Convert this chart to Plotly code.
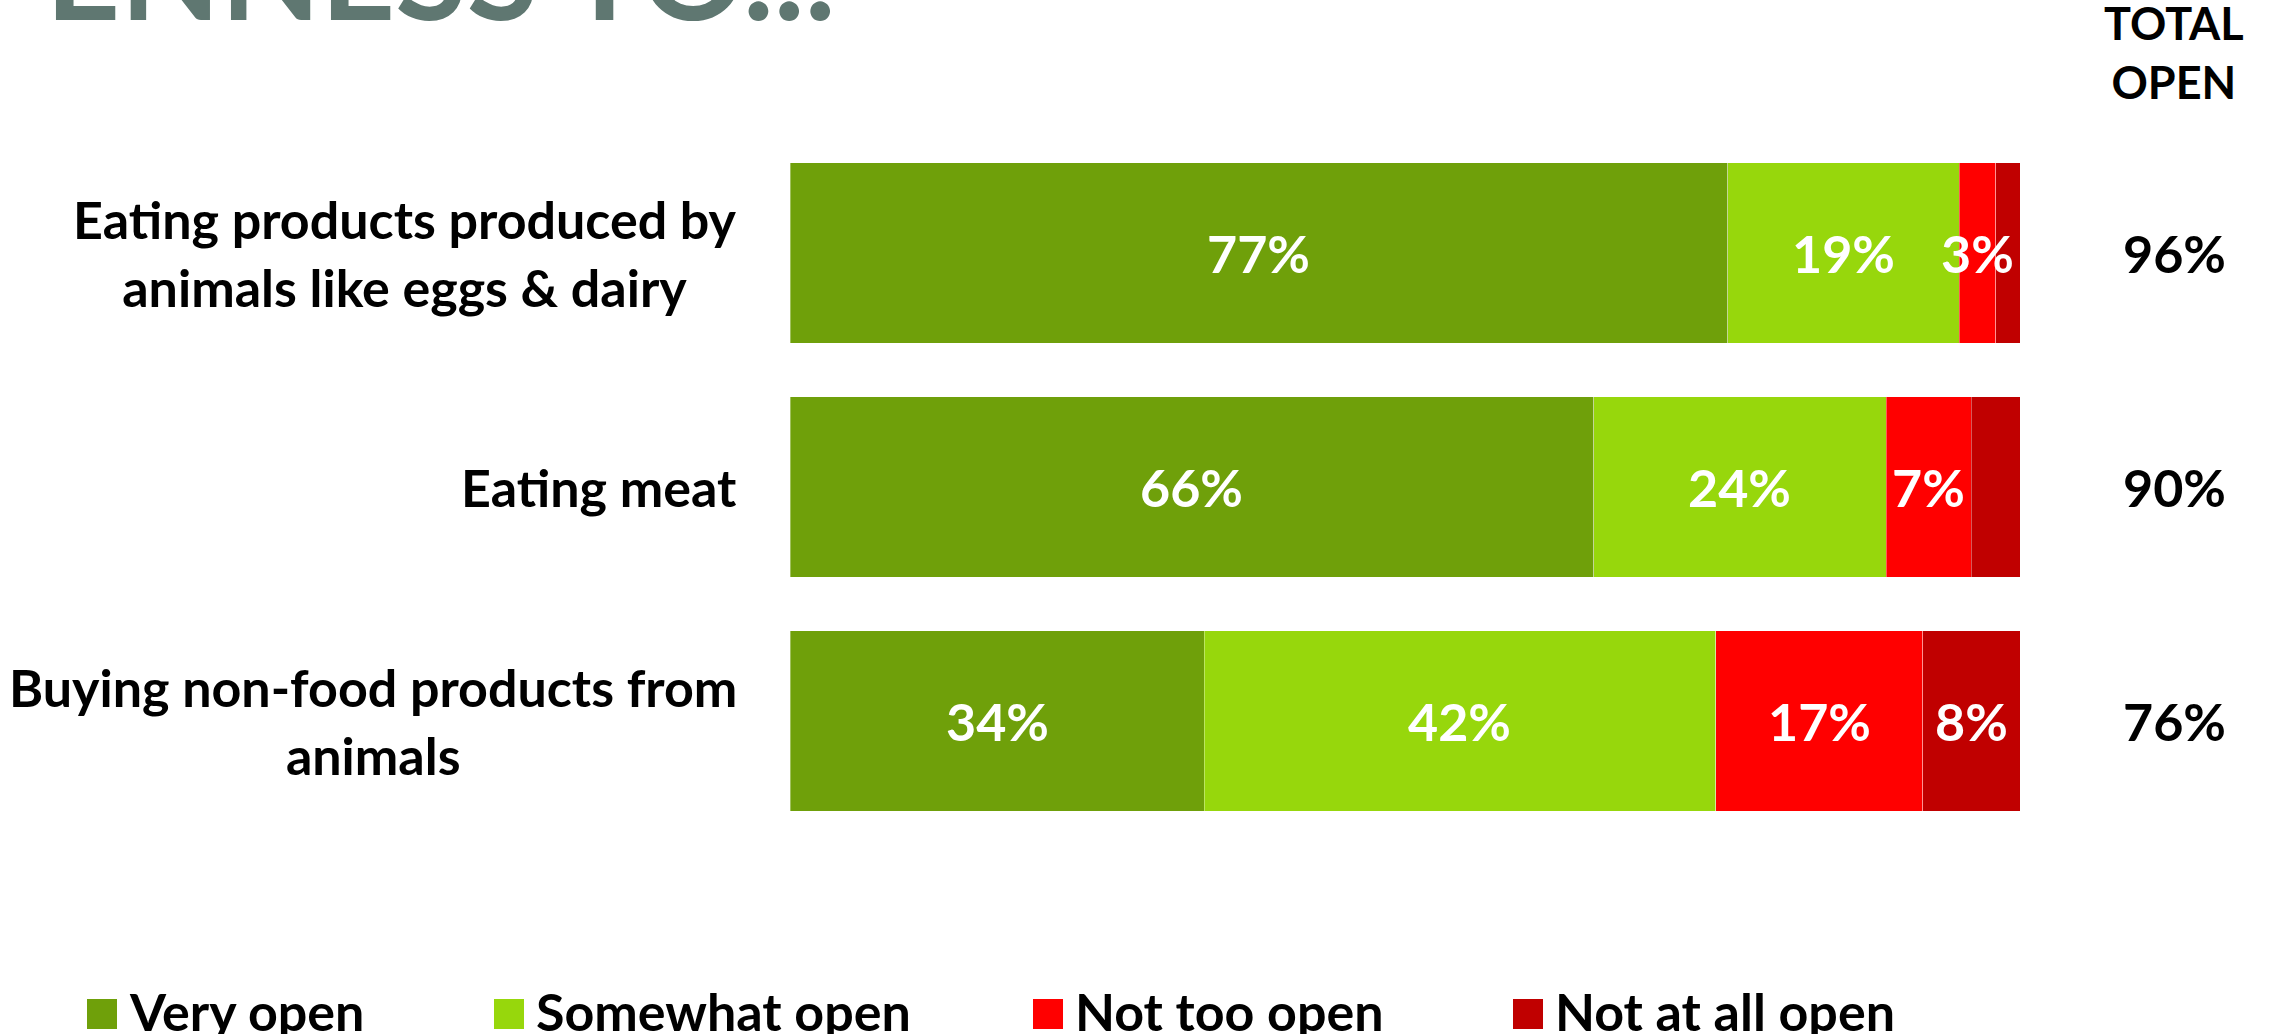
import plotly.graph_objects as go

# Survey items (top to bottom) and response shares, in percent
items = [
    "Eating products produced by<br>animals like eggs & dairy",
    "Eating meat",
    "Buying non-food products from<br>animals",
]
very_open = [77, 66, 34]
somewhat_open = [19, 24, 42]
not_too_open = [3, 7, 17]
not_at_all_open = [2, 4, 8]
not_at_all_labels = ["", "", "8%"]

series_names = ["Very open", "Somewhat open", "Not too open", "Not at all open"]
series_colors = ["#6fa00a", "#97d70c", "#ff0000", "#c00000"]
total_open = [v + s for v, s in zip(very_open, somewhat_open)]

FONT = "Lato"
W, H = 2271, 1034
# plot area in pixels
L, R, T, B = 790, 2020, 136, 838


def px(x):
    return (x - L) / (R - L)


def py(y):
    return (B - y) / (B - T)


fig = go.Figure()
annotations = []
series_values = [very_open, somewhat_open, not_too_open, not_at_all_open]
offsets = [0] * len(items)
for i, (name, vals, col) in enumerate(zip(series_names, series_values, series_colors)):
    fig.add_trace(go.Bar(
        name=name,
        y=items,
        x=vals,
        orientation="h",
        marker=dict(color=col, line=dict(color="rgba(255,255,255,0.35)", width=1)),
        showlegend=False,
    ))
    labels = not_at_all_labels if i == 3 else [f"{v}%" for v in vals]
    # segment labels sit at the middle of each segment and may spill over
    for j, (it, v, lab) in enumerate(zip(items, vals, labels)):
        if lab:
            annotations.append(dict(
                x=offsets[j] + v / 2, xref="x", y=it, yref="y",
                text=lab, showarrow=False, xanchor="center", yanchor="middle",
                font=dict(family=FONT, size=52, color="white", weight="bold"),
            ))
        offsets[j] += v

# category labels, lines centred on each other
for it in items:
    annotations.append(dict(
        x=px(739), xref="paper", y=it, yref="y",
        text=it, showarrow=False, xanchor="right", yanchor="middle", align="center",
        font=dict(family=FONT, size=52, color="black", weight="bold"),
    ))
# total open column
for it, tot in zip(items, total_open):
    annotations.append(dict(
        x=px(2174), xref="paper", y=it, yref="y",
        text=f"{tot}%", showarrow=False, xanchor="center", yanchor="middle",
        font=dict(family=FONT, size=52, color="black", weight="bold"),
    ))
annotations.append(dict(
    x=px(2174), xref="paper", y=py(53), yref="paper",
    text="TOTAL<br>OPEN", showarrow=False, xanchor="center", yanchor="middle",
    align="center",
    font=dict(family=FONT, size=45, color="black", weight="bold"),
))
# slide heading, running off the top edge
annotations.append(dict(
    x=px(838), xref="paper", y=py(50), yref="paper",
    text="OPENNESS TO...", showarrow=False, xanchor="right", yanchor="bottom",
    font=dict(family=FONT, size=130, color="#5f7771", weight="bold"),
))

# legend row
shapes = []
legend_marker_x = [87, 494, 1033, 1513]
for name, col, mx in zip(series_names, series_colors, legend_marker_x):
    shapes.append(dict(
        type="rect", xref="paper", yref="paper",
        x0=px(mx), x1=px(mx + 30), y0=py(1029), y1=py(999),
        fillcolor=col, line=dict(width=0),
    ))
    annotations.append(dict(
        x=px(mx + 40), xref="paper", y=py(1011), yref="paper",
        text=name, showarrow=False, xanchor="left", yanchor="middle",
        font=dict(family=FONT, size=52, color="black", weight="bold"),
    ))

fig.update_layout(
    width=W, height=H,
    margin=dict(l=L, r=W - R, t=T, b=H - B, pad=0),
    barmode="stack",
    bargap=0.23,
    plot_bgcolor="white",
    paper_bgcolor="white",
    xaxis=dict(range=[0, 101], visible=False, fixedrange=True),
    yaxis=dict(autorange="reversed", showticklabels=False, showgrid=False,
               zeroline=False, showline=False, ticks=""),
    annotations=annotations,
    shapes=shapes,
    showlegend=False,
)

fig.write_html("out.html", config={"displayModeBar": False})
